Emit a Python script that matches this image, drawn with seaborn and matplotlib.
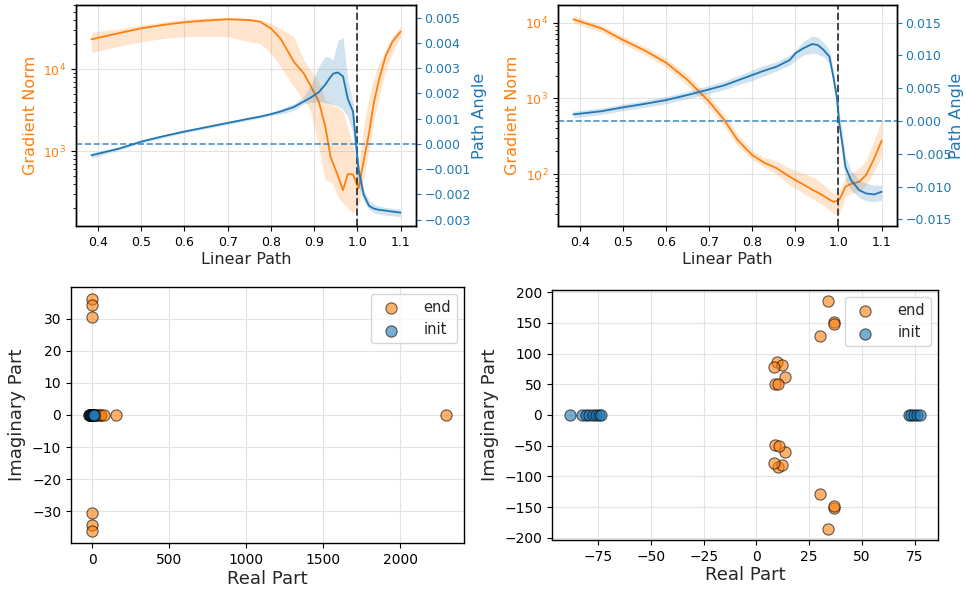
import numpy as np
import pandas as pd
import matplotlib
matplotlib.use("Agg")
import matplotlib.pyplot as plt
from matplotlib.ticker import MultipleLocator
import seaborn as sns

# ---- top-left panel: gradient norm / path angle along the linear path ----
path_a = [0.385, 0.45, 0.5, 0.55, 0.6, 0.65, 0.7, 0.75, 0.775, 0.8, 0.822, 0.853,
          0.876, 0.891, 0.911, 0.926, 0.938, 0.944, 0.955, 0.967, 0.978, 0.99,
          1.003, 1.015, 1.027, 1.038, 1.05, 1.065, 1.081, 1.1]
grad_a = [23000, 27500, 31300, 34500, 37100, 39000, 40400, 39500, 37800, 31300, 23700, 12300,
          8860, 6380, 4000, 1980, 853, 708, 500, 334, 525, 519,
          351, 777, 1642, 3810, 7350, 14130, 21500, 28500]
grad_a_hi = [28000, 31000, 34400, 37500, 40700, 42000, 42700, 41500, 39600, 36000, 31300, 24800,
             12900, 9700, 7010, 4190, 3810, 3540, 3470, 3020, 1890, 1130,
             644, 1980, 4600, 7690, 11700, 17100, 24800, 32800]
grad_a_lo = [15800, 19000, 21500, 23500, 24800, 25000, 24800, 21500, 20500, 15500, 10700, 6100,
             4190, 3160, 1130, 443, 423, 385, 277, 230, 200, 174,
             219, 486, 1030, 2280, 4600, 9270, 15500, 24800]
angle_a = [-0.00045, -0.00018, 0.00009, 0.00030, 0.00049, 0.00066, 0.00083, 0.00100, 0.00108,
           0.00118, 0.00128, 0.00146, 0.00168, 0.00182, 0.00205, 0.00235, 0.00265, 0.00278,
           0.00283, 0.00267, 0.00178, 0.00128, -0.00103, -0.00202, -0.00245, -0.00256,
           -0.00261, -0.00264, -0.00268, -0.00272]
angle_a_hi = [-0.00036, -0.00012, 0.00015, 0.00036, 0.00055, 0.00072, 0.00089, 0.00106, 0.00114,
              0.00124, 0.00138, 0.00159, 0.00188, 0.00228, 0.00307, 0.00347, 0.00340, 0.00333,
              0.00410, 0.00422, 0.00254, 0.00168, -0.00077, -0.00183, -0.00222, -0.00238,
              -0.00246, -0.00251, -0.00255, -0.00259]
angle_a_lo = [-0.00056, -0.00024, 0.00003, 0.00024, 0.00043, 0.00060, 0.00077, 0.00094, 0.00102,
              0.00112, 0.00118, 0.00132, 0.00159, 0.00164, 0.00168, 0.00164, 0.00159, 0.00155,
              0.00151, 0.00135, 0.00108, 0.00042, -0.00169, -0.00229, -0.00259, -0.00272,
              -0.00278, -0.00282, -0.00284, -0.00288]

# ---- top-right panel ----
path_b = [0.385, 0.45, 0.5, 0.55, 0.6, 0.65, 0.7, 0.735, 0.766, 0.8, 0.828, 0.856, 0.887,
          0.9, 0.918, 0.939, 0.952, 0.964, 0.979, 0.988, 0.996, 1.002, 1.01, 1.016,
          1.029, 1.048, 1.064, 1.083, 1.1]
grad_b = [11070, 8400, 5900, 4300, 2960, 1746, 904, 517, 281, 178, 141, 120, 92,
          83.4, 73, 62, 57, 52, 46, 43, 44, 46, 57, 68,
          74, 79, 97, 161, 275]
grad_b_hi = [12400, 9300, 6600, 4850, 3400, 2050, 1080, 620, 335, 205, 165, 150, 119,
             113, 102, 92, 83, 73, 61.5, 56.6, 56.6, 60.2, 75.4, 87.8,
             102, 119, 153, 281, 517]
grad_b_lo = [9900, 7500, 5250, 3800, 2580, 1490, 760, 430, 236, 155, 123, 100, 71.6,
             64.6, 55.5, 47.6, 43, 39, 33.4, 30.2, 28.7, 30.2, 39, 50,
             55.5, 58.5, 71.6, 107, 170]
angle_b = [0.00102, 0.00150, 0.00209, 0.00262, 0.00320, 0.00398, 0.00483, 0.00545, 0.00620,
           0.00702, 0.00770, 0.00829, 0.00931, 0.01033, 0.01109, 0.01175, 0.01160, 0.01094,
           0.00982, 0.00677, 0.00371, -0.00036, -0.00392, -0.00697, -0.00900, -0.01053,
           -0.01104, -0.01119, -0.01078]
angle_b_hi = [0.00152, 0.00200, 0.00259, 0.00315, 0.00375, 0.00455, 0.00545, 0.00610, 0.00690,
              0.00780, 0.00850, 0.00905, 0.01007, 0.01083, 0.01210, 0.01297, 0.01277, 0.01210,
              0.01083, 0.00778, 0.00473, 0.00117, -0.00239, -0.00544, -0.00748, -0.00900,
              -0.00951, -0.00977, -0.00977]
angle_b_lo = [0.00052, 0.00100, 0.00159, 0.00210, 0.00265, 0.00340, 0.00420, 0.00480, 0.00550,
              0.00620, 0.00690, 0.00763, 0.00855, 0.00920, 0.01007, 0.01033, 0.01022, 0.00982,
              0.00880, 0.00575, 0.00219, -0.00188, -0.00570, -0.00900, -0.01053, -0.01165,
              -0.01216, -0.01231, -0.01206]

# ---- bottom-left panel: eigenvalues ----
end_re_a = [0, 0, 0, 0, 0, 0, -22, -15, -8, 0, 8, 15, 25, 35, 48, 60, 76, 157, 2299]
end_im_a = [36.2, 34.3, 30.5, -30.5, -34.3, -36.2, 0, 0, 0, 0, 0, 0, 0, 0, 0, 0, 0, 0, 0]
init_re_a = [-20, -14, -9, -5, -2, 0, 2, 5, 9, 14]
init_im_a = [0, 0, 0, 0, 0, 0, 0, 0, 0, 0]

# ---- bottom-right panel ----
end_re_b = [33.7, 36.9, 36.9, 30.2, 9.6, 12.0, 8.4, 13.6, 8.9, 10.4,
            33.7, 36.9, 36.9, 30.2, 10.0, 12.0, 8.4, 13.6, 8.9, 10.8]
end_im_b = [185, 152, 148, 128, 87, 82, 78, 62, 50, 51,
            -185, -152, -148, -128, -85, -82, -78, -60.5, -49, -50.6]
init_re_b = [-88.5, -82.4, -80.9, -79.3, -77.4, -75.8, -74.5, -73.7,
             72.2, 73.4, 74.5, 76.1, 77.7]
init_im_b = [0, 0, 0, 0, 0, 0, 0, 0, 0, 0, 0, 0, 0]

ORANGE = "#ff7f0e"
BLUE = "#1f77b4"

sns.set_style("whitegrid", {"axes.edgecolor": "black", "grid.color": "#e3e3e3",
                            "xtick.bottom": True, "ytick.left": True})
plt.rcParams.update({
    "font.family": ["DejaVu Sans"],
    "axes.linewidth": 1.0,
    "xtick.major.size": 3.5, "ytick.major.size": 3.5,
    "ytick.minor.size": 2.0, "xtick.color": "black", "ytick.color": "black",
    "xtick.labelsize": 9, "ytick.labelsize": 9,
})

W, H = 967, 590
fig = plt.figure(figsize=(W / 100, H / 100), dpi=100)


def box(l, t, r, b):
    return [l / W, 1 - b / H, (r - l) / W, (b - t) / H]


def path_panel(rect, x, g, g_lo, g_hi, a, a_lo, a_hi, glim, alim, astep, label_x):
    ax = fig.add_axes(rect)
    ax.set_yscale("log")
    ax.fill_between(x, g_lo, g_hi, color=ORANGE, alpha=0.2, lw=0)
    sns.lineplot(x=x, y=g, ax=ax, color=ORANGE, lw=1.3)
    ax.set_ylim(*glim)
    ax.set_xticks([0.4, 0.5, 0.6, 0.7, 0.8, 0.9, 1.0, 1.1])
    ax.set_xlabel("Linear Path", fontsize=11.5, labelpad=2)
    ax.set_ylabel("Gradient Norm", color=ORANGE, fontsize=11.5)
    ax.tick_params(axis="y", which="both", labelcolor=ORANGE, left=True)
    ax.tick_params(axis="y", which="minor", length=2)
    ax.grid(True, which="major")
    ax.grid(False, which="minor")
    ax.axvline(1.0, color="#444444", ls="--", lw=1.4, zorder=5)

    ax2 = ax.twinx()
    ax2.fill_between(x, a_lo, a_hi, color=BLUE, alpha=0.2, lw=0)
    sns.lineplot(x=x, y=a, ax=ax2, color=BLUE, lw=1.3)
    ax2.axhline(0, color=BLUE, ls="--", lw=1.2, alpha=0.8)
    ax2.set_ylim(*alim)
    ax2.yaxis.set_major_locator(MultipleLocator(astep))
    ax2.grid(False)
    ax2.set_ylabel("Path Angle", color=BLUE, fontsize=11.5)
    ax2.yaxis.set_label_coords(label_x, 0.5)
    ax2.tick_params(axis="y", colors=BLUE, right=True, length=3.5, pad=2.5, labelsize=9)
    for s in ax2.spines.values():
        s.set_edgecolor("black")
    return ax, ax2


path_panel(box(76, 5, 416, 226), path_a, grad_a, grad_a_lo, grad_a_hi,
           angle_a, angle_a_lo, angle_a_hi, (122, 60300), (-0.00325, 0.0055), 0.001,
           (472 - 76) / 340)
path_panel(box(558, 5, 897, 226), path_b, grad_b, grad_b_lo, grad_b_hi,
           angle_b, angle_b_lo, angle_b_hi, (20.6, 17100), (-0.0160, 0.0177), 0.005,
           (949 - 558) / 339)


def eig_panel(rect, er, ei, ir, ii):
    ax = fig.add_axes(rect)
    sns.scatterplot(x=er, y=ei, ax=ax, color=ORANGE, s=65, alpha=0.6,
                    edgecolor="black", linewidth=0.8, label="end")
    sns.scatterplot(x=ir, y=ii, ax=ax, color=BLUE, s=65, alpha=0.6,
                    edgecolor="black", linewidth=0.8, label="init")
    ax.set_xlabel("Real Part", fontsize=13, labelpad=2)
    ax.set_ylabel("Imaginary Part", fontsize=13)
    ax.tick_params(labelsize=10)
    ax.legend(loc="upper right", fontsize=10.5, frameon=True, handletextpad=1.2)
    return ax


eig_panel(box(71, 287, 464, 543), end_re_a, end_im_a, init_re_a, init_im_a)
axb = eig_panel(box(552, 290, 938, 540), end_re_b, end_im_b, init_re_b, init_im_b)
axb.set_xticks([-75, -50, -25, 0, 25, 50, 75])

fig.savefig("out.png", dpi=100)
